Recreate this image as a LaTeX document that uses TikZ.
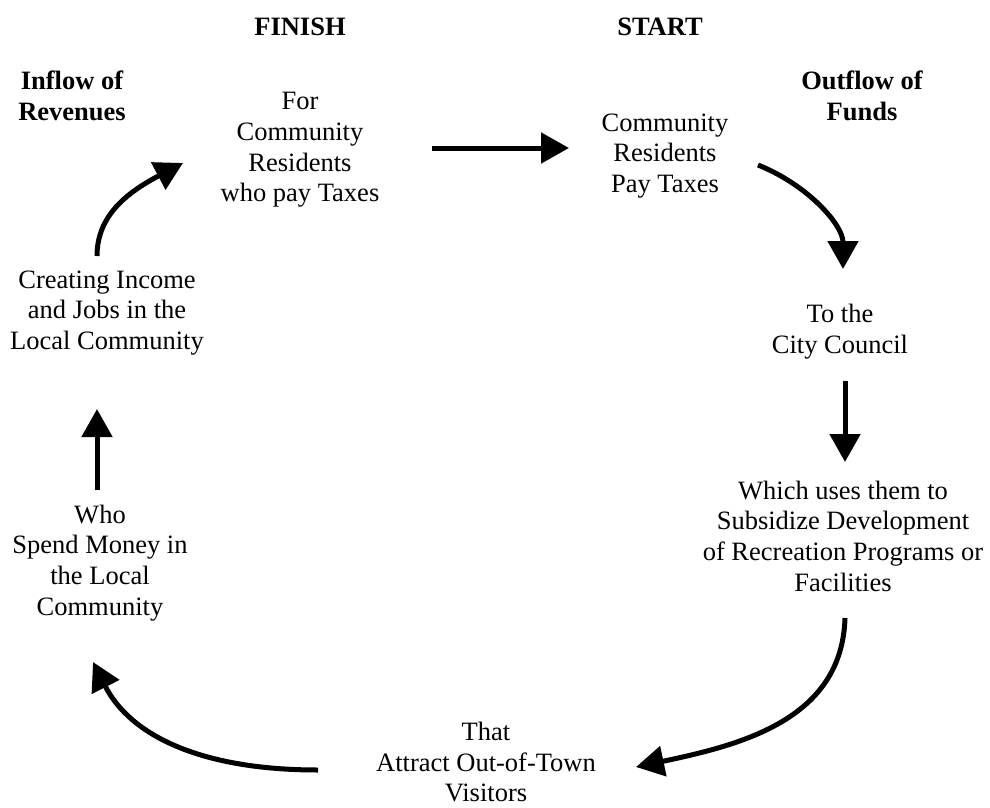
\documentclass[tikz,border=0pt]{standalone}
\usepackage{fontspec}
\setmainfont{Liberation Serif}
\usetikzlibrary{arrows.meta}
\begin{document}
\begin{tikzpicture}[x=1pt,y=-1pt,
  txt/.style={align=center,inner sep=0pt,font=\fontsize{26.5}{30.7}\selectfont},
  hdr/.style={align=center,inner sep=0pt,font=\fontsize{26.5}{31.5}\selectfont\bfseries},
  flow/.style={line width=5pt,-{Triangle[width=30pt,length=28pt]}}]
\useasboundingbox (0,0) rectangle (990,808);
% headings
\node[hdr] (finish) at (300,27) {FINISH};
\node[hdr] (start) at (660,27) {START};
\node[hdr] (inflow) at (72,96) {Inflow of\\Revenues};
\node[hdr] (outflow) at (862,96) {Outflow of\\Funds};
% texts
\node[txt] (forres) at (300,150) {For\\Community\\Residents\\who pay Taxes};
\node[txt] (pay) at (665,156) {Community\\Residents\\Pay Taxes};
\node[txt] (council) at (840,332) {To the\\City Council};
\node[txt] (subs) at (843,536) {Which uses them to\\Subsidize Development\\of Recreation Programs or\\Facilities};
\node[txt] (attract) at (486,762) {That\\Attract Out-of-Town\\Visitors};
\node[txt] (spend) at (100,563) {Who\\Spend Money in\\the Local\\Community};
\node[txt] (income) at (107,313) {Creating Income\\and Jobs in the\\Local Community};
% connector ends
\coordinate (a1s) at (432,148); \coordinate (a1e) at (569,148);
\coordinate (a2s) at (758,165); \coordinate (a2e) at (843,269);
\coordinate (a3s) at (845,381); \coordinate (a3e) at (845,462);
\coordinate (a4s) at (845,618); \coordinate (a4e) at (636,767);
\coordinate (a5s) at (318,770); \coordinate (a5e) at (93,662);
\coordinate (a6s) at (97,490);  \coordinate (a6e) at (97,409);
\coordinate (a7s) at (97,256);  \coordinate (a7e) at (183,163);
% arrows
\draw[flow] (a1s) -- (a1e);
\draw[flow] (a2s) .. controls (808,185) and (843,225) .. (a2e);
\draw[flow] (a3s) -- (a3e);
\draw[flow] (a4s) .. controls (842,720) and (740,745) .. (a4e);
\draw[flow] (a5s) .. controls (200,770) and (130,735) .. (a5e);
\draw[flow] (a6s) -- (a6e);
\draw[flow] (a7s) .. controls (97,215) and (128,192) .. (a7e);
\end{tikzpicture}
\end{document}
